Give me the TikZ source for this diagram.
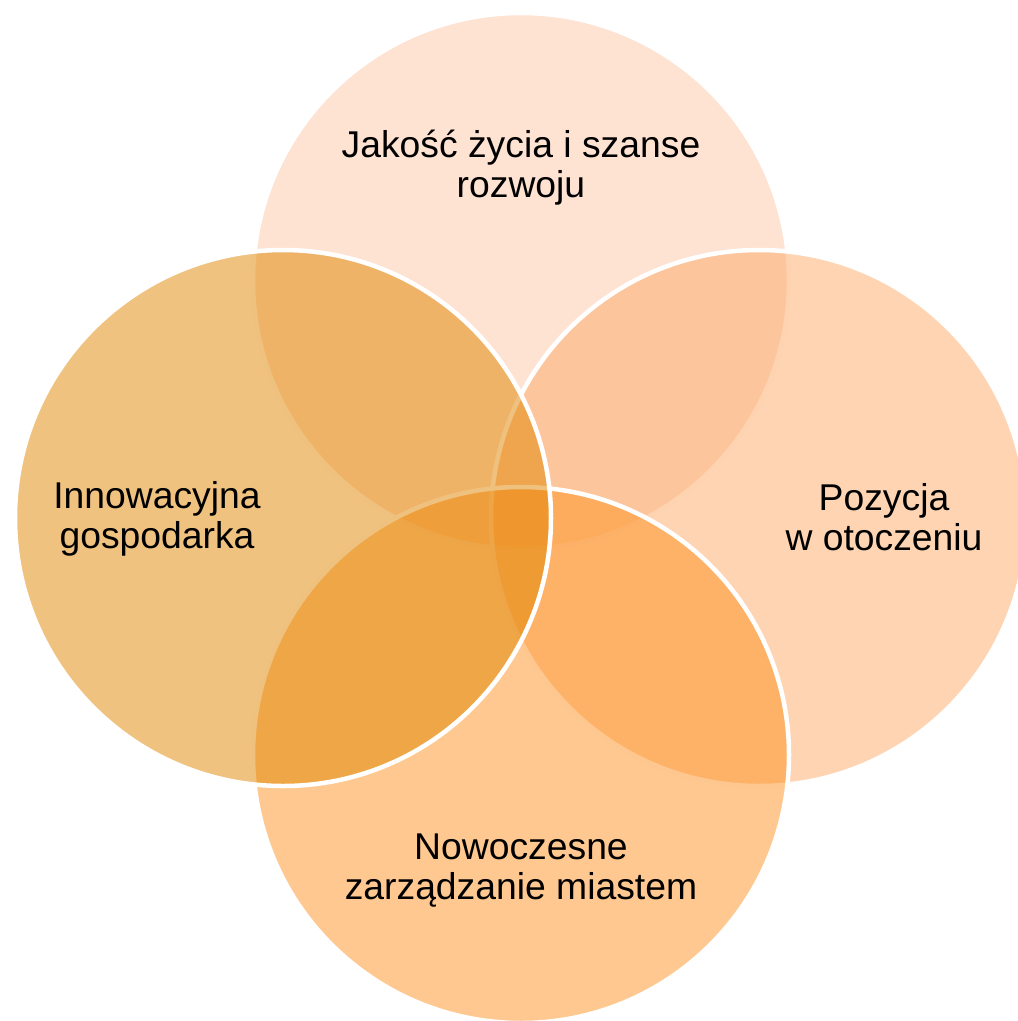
\documentclass[tikz,border=0pt]{standalone}
\usepackage{fontspec}
\setmainfont{Liberation Sans}
\definecolor{cTop}{RGB}{253,197,165}
\definecolor{cRight}{RGB}{253,169,101}
\definecolor{cBottom}{RGB}{253,145,33}
\definecolor{cLeft}{RGB}{225,133,0}
\tikzset{
  ring/.style={circle, inner sep=0pt, minimum size=536pt, draw=white, line width=4.5pt, fill opacity=0.5, text opacity=1},
  lbl/.style={align=center, inner sep=0pt, font=\fontsize{37.3}{40}\selectfont, text=black}
}
\begin{document}
\begin{tikzpicture}[x=1pt, y=-1pt]
\useasboundingbox (0,0) rectangle (1018,1021);
\clip (0,0) rectangle (1018,1021);
\node[ring, fill=cTop]    (top)    at (521,281) {};
\node[ring, fill=cRight]  (right)  at (759,518) {};
\node[ring, fill=cBottom] (bottom) at (521,755) {};
\node[ring, fill=cLeft]   (left)   at (283,518) {};
\node[lbl] (ttop)    at (521,168) {Jakość życia i szanse\\rozwoju};
\node[lbl] (tleft)   at (157,519) {Innowacyjna\\gospodarka};
\node[lbl] (tright)  at (884,517) {Pozycja\\w otoczeniu};
\node[lbl] (tbottom) at (521,871) {Nowoczesne\\zarządzanie miastem};
\end{tikzpicture}
\end{document}
